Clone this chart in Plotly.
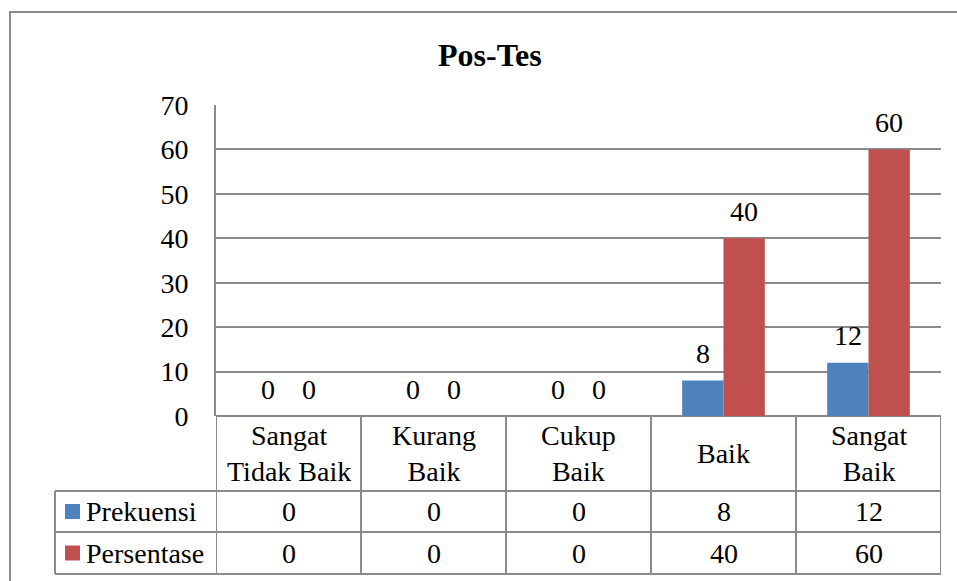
import plotly.graph_objects as go

# ---- data ----
categories = ["Sangat Tidak Baik", "Kurang Baik", "Cukup Baik", "Baik", "Sangat Baik"]
category_labels = ["Sangat<br>Tidak Baik", "Kurang<br>Baik", "Cukup<br>Baik", "Baik", "Sangat<br>Baik"]
prekuensi = [0, 0, 0, 8, 12]
persentase = [0, 0, 0, 40, 60]
series_names = ["Prekuensi", "Persentase"]
series_colors = ["#4F81BD", "#C0504D"]
title_text = "Pos-Tes"
y_ticks = [0, 10, 20, 30, 40, 50, 60, 70]

# ---- layout helpers ----
W, H = 957, 581
def px(x):
    return x / W
def py(y):
    return 1 - y / H

FONT = "'Liberation Serif', 'Times New Roman', Tinos, 'DejaVu Serif', serif"
FS = 28
GRID = "#8a8a8a"
LW = 2

plot_left, plot_right = 216, 941
plot_top, plot_bottom = 105, 416
row1_bottom, row2_bottom, row3_bottom = 491, 532, 574
legend_left = 55

bargap = 0.43
cat_px = (plot_right - plot_left) / len(categories)
bar_px = cat_px * (1 - bargap) / 2

fig = go.Figure()
all_series = [prekuensi, persentase]
for name, vals, col in zip(series_names, all_series, series_colors):
    fig.add_trace(go.Bar(x=categories, y=vals, name=name, marker_color=col,
                         marker_line_width=0, showlegend=False))

annotations = []
shapes = []

# data labels above bars
for si, vals in enumerate(all_series):
    off = (si - 0.5) * bar_px
    for c, v in zip(categories, vals):
        annotations.append(dict(x=c, y=v, xref="x", yref="y", text=str(v), showarrow=False,
                                xshift=off, yshift=27, yanchor="middle",
                                font=dict(family=FONT, size=FS, color="black")))

# title
annotations.append(dict(x=px(490), y=py(55), xref="paper", yref="paper", text="<b>%s</b>" % title_text,
                        showarrow=False, xanchor="center", yanchor="middle",
                        font=dict(family=FONT, size=32, color="black")))

# data table: category row
for c, lab in zip(categories, category_labels):
    annotations.append(dict(x=c, y=py((plot_bottom + row1_bottom) / 2), xref="x", yref="paper",
                            text=lab, showarrow=False, xanchor="center", yanchor="middle",
                            font=dict(family=FONT, size=FS, color="black")))

# data table: value rows
row_bounds = [(row1_bottom, row2_bottom), (row2_bottom, row3_bottom)]
for si, (vals, name, col) in enumerate(zip(all_series, series_names, series_colors)):
    top, bot = row_bounds[si]
    yc = (top + bot) / 2
    for c, v in zip(categories, vals):
        annotations.append(dict(x=c, y=py(yc), xref="x", yref="paper", text=str(v), showarrow=False,
                                xanchor="center", yanchor="middle",
                                font=dict(family=FONT, size=FS, color="black")))
    annotations.append(dict(x=px(84), y=py(yc), xref="paper", yref="paper", text=name, showarrow=False,
                            xanchor="left", yanchor="middle",
                            font=dict(family=FONT, size=FS, color="black")))
    # legend key
    shapes.append(dict(type="rect", xref="paper", yref="paper", x0=px(65), x1=px(80),
                       y0=py(yc - 7.5), y1=py(yc + 7.5), fillcolor=col, line=dict(width=0)))

# table grid lines
for i in range(len(categories) + 1):
    shapes.append(dict(type="line", xref="x", yref="paper", x0=i - 0.5, x1=i - 0.5,
                       y0=py(plot_bottom), y1=py(row3_bottom), line=dict(color=GRID, width=LW)))
for yy in (row1_bottom, row2_bottom, row3_bottom):
    shapes.append(dict(type="line", xref="paper", yref="paper", x0=px(legend_left), x1=px(plot_right),
                       y0=py(yy), y1=py(yy), line=dict(color=GRID, width=LW)))
shapes.append(dict(type="line", xref="paper", yref="paper", x0=px(legend_left), x1=px(legend_left),
                   y0=py(row1_bottom), y1=py(row3_bottom), line=dict(color=GRID, width=LW)))

# outer chart border
shapes.append(dict(type="rect", xref="paper", yref="paper", x0=px(10), x1=px(1010),
                   y0=py(12), y1=py(640), line=dict(color=GRID, width=LW), fillcolor="rgba(0,0,0,0)",
                   layer="below"))

fig.update_layout(
    template="none",
    width=W, height=H,
    margin=dict(l=0, r=0, t=0, b=0, pad=0, autoexpand=False),
    paper_bgcolor="white", plot_bgcolor="white",
    font=dict(family=FONT, size=FS, color="black"),
    barmode="group", bargap=bargap, bargroupgap=0,
    xaxis=dict(domain=[px(plot_left), px(plot_right)], range=[-0.5, len(categories) - 0.5],
               showticklabels=False, showgrid=False, zeroline=False, showline=False,
               automargin=False, fixedrange=True),
    yaxis=dict(domain=[py(plot_bottom), py(plot_top)], range=[0, 70], tickvals=y_ticks,
               showgrid=True, gridcolor=GRID, gridwidth=LW,
               zeroline=True, zerolinecolor=GRID, zerolinewidth=LW,
               showline=True, linecolor=GRID, linewidth=LW,
               ticks="", ticklabelstandoff=20, automargin=False, fixedrange=True,
               tickfont=dict(family=FONT, size=FS, color="black")),
    annotations=annotations,
    shapes=shapes,
    showlegend=False,
)

fig.write_html("out.html")
